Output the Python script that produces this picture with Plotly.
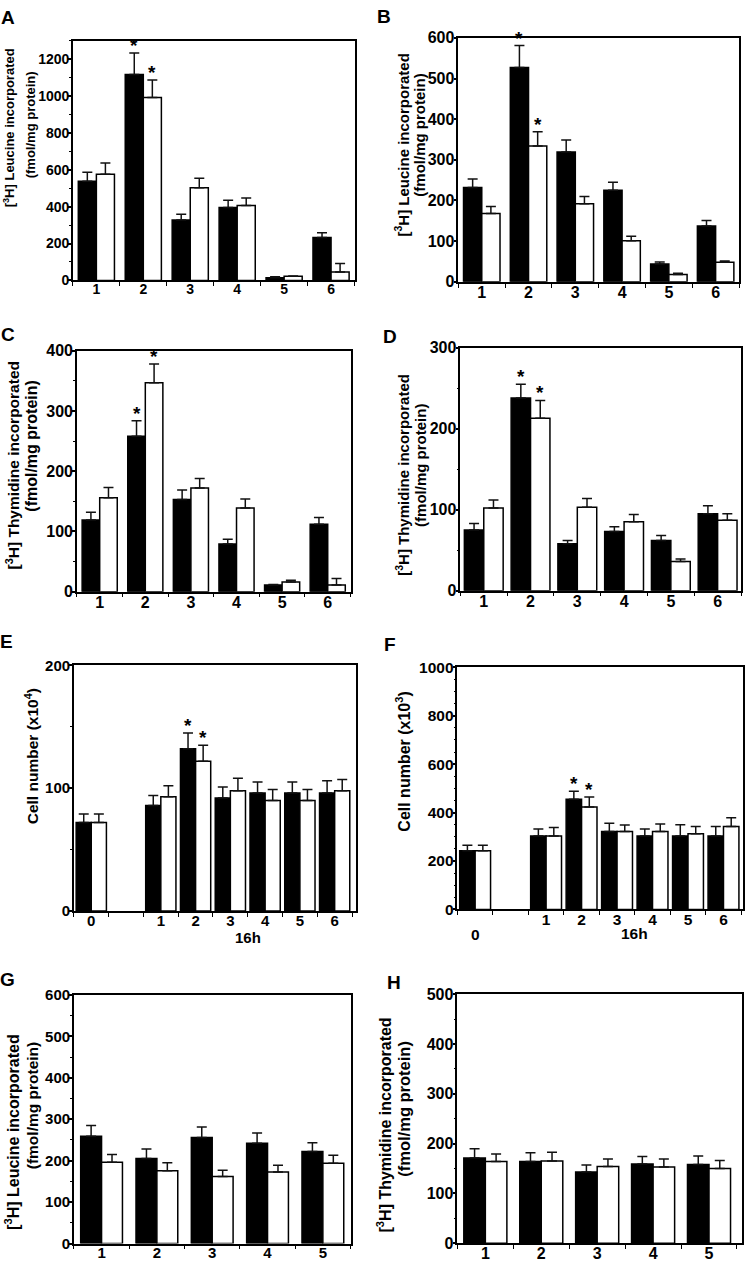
import plotly.graph_objects as go

W, H = 745, 1274

# ---------------- data ----------------
A_groups = ["1", "2", "3", "4", "5", "6"]
A_black = [538, 1116, 328, 395, 15, 233]
A_black_err = [48, 116, 30, 39, 5, 25]
A_white = [575, 992, 502, 406, 22, 46]
A_white_err = [61, 94, 52, 41, 2, 45]
A_sig = ["2"]

B_groups = ["1", "2", "3", "4", "5", "6"]
B_black = [232, 527, 319, 225, 44, 137]
B_black_err = [21, 54, 30, 20, 5, 14]
B_white = [168, 334, 192, 101, 18, 48]
B_white_err = [17, 35, 18, 11, 3, 3]
B_sig = ["2"]

C_groups = ["1", "2", "3", "4", "5", "6"]
C_black = [119, 258, 153, 79, 11, 112]
C_black_err = [13, 26, 16, 8, 1, 11]
C_white = [156, 347, 172, 139, 16, 11]
C_white_err = [17, 31, 16, 15, 3, 11]
C_sig = ["2"]

D_groups = ["1", "2", "3", "4", "5", "6"]
D_black = [75, 238, 58, 73, 62, 95]
D_black_err = [8, 17, 4, 6, 6, 10]
D_white = [102, 213, 103, 85, 36, 87]
D_white_err = [10, 22, 11, 9, 3, 8]
D_sig = ["2"]

E_groups = ["0", "1", "2", "3", "4", "5", "6"]
E_black = [72, 86, 132, 92, 96, 96, 96]
E_black_err = [7, 8, 13, 9, 9, 9, 10]
E_white = [72, 93, 122, 98, 90, 90, 98]
E_white_err = [7, 9, 13, 10, 9, 9, 9]
E_sig = ["2"]

F_groups = ["0", "1", "2", "3", "4", "5", "6"]
F_black = [242, 303, 455, 322, 303, 303, 303]
F_black_err = [23, 29, 33, 34, 29, 47, 39]
F_white = [242, 303, 423, 322, 322, 312, 342]
F_white_err = [23, 35, 41, 27, 31, 30, 36]
F_sig = ["2"]

G_groups = ["1", "2", "3", "4", "5"]
G_black = [259, 205, 256, 242, 222]
G_black_err = [26, 23, 25, 25, 21]
G_white = [196, 176, 162, 173, 194]
G_white_err = [19, 19, 15, 16, 19]
G_sig = []

H_groups = ["1", "2", "3", "4", "5"]
H_black = [171, 164, 143, 159, 158]
H_black_err = [19, 18, 14, 15, 17]
H_white = [164, 165, 154, 153, 150]
H_white_err = [15, 18, 15, 16, 16]
H_sig = []

LEU = "[<sup>3</sup>H] Leucine incorporated"
THY = "[<sup>3</sup>H] Thymidine incorporated"
FMOL = "(fmol/mg protein)"

data = {
    "A": (A_groups, A_black, A_black_err, A_white, A_white_err, A_sig),
    "B": (B_groups, B_black, B_black_err, B_white, B_white_err, B_sig),
    "C": (C_groups, C_black, C_black_err, C_white, C_white_err, C_sig),
    "D": (D_groups, D_black, D_black_err, D_white, D_white_err, D_sig),
    "E": (E_groups, E_black, E_black_err, E_white, E_white_err, E_sig),
    "F": (F_groups, F_black, F_black_err, F_white, F_white_err, F_sig),
    "G": (G_groups, G_black, G_black_err, G_white, G_white_err, G_sig),
    "H": (H_groups, H_black, H_black_err, H_white, H_white_err, H_sig),
}

# ---------------- styling / layout (pixels) ----------------
spec = {
    "A": dict(box=(73, 355, 32, 275.3), yr=(0, 1300), dt=200, mdt=100, gap=0.23, xr=(0.5, 6.5), tf=14,
              titles=[(LEU, 9, 120, 13), (FMOL, 30, 117, 13)], letter=(8, 9)),
    "B": dict(box=(459, 740, 29.3, 276.7), yr=(0, 600), dt=100, mdt=None, gap=0.22, xr=(0.5, 6.5), tf=16,
              titles=[(LEU, 402, 138, 15), (FMOL, 420, 128, 15)], letter=(385, 8)),
    "C": dict(box=(77, 351, 346.7, 591), yr=(0, 400), dt=100, mdt=50, gap=0.23, xr=(0.5, 6.5), tf=16,
              titles=[(THY, 13, 463, 15.5), (FMOL, 32, 443, 16)], letter=(8, 330)),
    "D": dict(box=(461, 742, 343.7, 590), yr=(0, 300), dt=100, mdt=50, gap=0.17, xr=(0.5, 6.5), tf=16,
              titles=[(THY, 403, 472, 15), (FMOL, 421, 463, 15)], letter=(391, 332)),
    "E": dict(box=(74, 356, 665.7, 915), yr=(0, 200), dt=100, mdt=50, gap=0.13, xr=(-0.5, 7.6), tf=15,
              titles=[("Cell number (x10<sup>4</sup>)", 32, 758, 15.5)], letter=(7, 642)),
    "F": dict(box=(458, 744, 667.7, 913.3), yr=(0, 1000), dt=200, mdt=50, gap=0.13, xr=(-0.5, 7.55), tf=15.5,
              titles=[("Cell number (x10<sup>3</sup>)", 404, 763, 16)], letter=(391, 645)),
    "G": dict(box=(74, 351, 1000, 1252.3), yr=(0, 600), dt=100, mdt=50, gap=0.245, xr=(0.5, 5.5), tf=15,
              titles=[(LEU, 12, 1139, 16), (FMOL, 32, 1112, 15.5)], letter=(8, 984)),
    "H": dict(box=(458, 743, 999.3, 1252), yr=(0, 500), dt=100, mdt=50, gap=0.23, xr=(0.5, 5.59), tf=16,
              titles=[(THY, 385, 1132, 16), (FMOL, 405, 1115, 16.5)], letter=(395, 987)),
}

FONT = "Liberation Sans, Arial, sans-serif"


def px(x):
    return x / W


def py(y):
    return 1 - y / H


fig = go.Figure()
annotations = []
layout_axes = {}

for i, key in enumerate(["A", "B", "C", "D", "E", "F", "G", "H"]):
    groups, blk, blk_e, wht, wht_e, sig = data[key]
    s = spec[key]
    n = len(groups)
    if key in ("E", "F"):
        xpos = [0] + [j + 2 for j in range(n - 1)]
    else:
        xpos = [j + 1 for j in range(n)]
    bw = (1 - s["gap"]) / 2
    xa = "x" if i == 0 else f"x{i+1}"
    ya = "y" if i == 0 else f"y{i+1}"
    for vals, errs, color, off in ((blk, blk_e, "black", -bw), (wht, wht_e, "white", 0.0)):
        fig.add_trace(go.Bar(
            x=xpos, y=vals, width=[bw] * n, offset=[off] * n,
            marker=dict(color=color, line=dict(color="black", width=1.5)),
            error_y=dict(type="data", array=errs, arrayminus=[0] * n, symmetric=False,
                         color="#111111", thickness=1.5, width=5),
            xaxis=xa, yaxis=ya, showlegend=False, hoverinfo="skip",
        ))
    # significance asterisks
    for vals, errs, off, sgroups in ((blk, blk_e, -bw / 2, sig), (wht, wht_e, bw / 2, sig)):
        for g in sgroups:
            j = groups.index(g)
            annotations.append(dict(
                x=xpos[j] + off, y=vals[j] + errs[j], xref=xa, yref=ya, text="<b>*</b>",
                showarrow=False, yanchor="bottom", xanchor="center", yshift=-5,
                font=dict(family=FONT, size=19, color="black")))
    x0, x1, yt, yb = s["box"]
    tickfont = dict(family=FONT, size=s["tf"], color="black", weight="bold")
    if key == "F":
        tvals, ttext = xpos[1:], groups[1:]
    else:
        tvals, ttext = xpos, groups
    half = [k + 0.5 for k in range(int(s["xr"][0] - 1.5), int(s["xr"][1]) + 2)
            if s["xr"][0] - 1e-6 <= k + 0.5 <= s["xr"][1] + 1e-6]
    xname = "xaxis" if i == 0 else f"xaxis{i+1}"
    yname = "yaxis" if i == 0 else f"yaxis{i+1}"
    layout_axes[xname] = dict(
        domain=[px(x0), px(x1)], anchor=ya, range=list(s["xr"]),
        tickmode="array", tickvals=tvals, ticktext=ttext, ticks="outside", ticklen=0,
        tickcolor="black", tickfont=tickfont, ticklabelstandoff=-5,
        minor=dict(tickmode="array", tickvals=half, ticks="outside", ticklen=4,
                   tickcolor="black", tickwidth=1.2),
        showline=True, linecolor="black", linewidth=1.5, mirror=True,
        showgrid=False, zeroline=False, fixedrange=True,
    )
    ydict = dict(
        domain=[py(yb), py(yt)], anchor=xa, range=list(s["yr"]),
        tickmode="linear", tick0=0, dtick=s["dt"], ticks="outside", ticklen=3, tickwidth=1.5,
        tickcolor="black", tickfont=tickfont, ticklabelstandoff=-4,
        showline=True, linecolor="black", linewidth=1.5, mirror=True,
        showgrid=False, zeroline=False, fixedrange=True,
    )
    if s["mdt"]:
        ydict["minor"] = dict(dtick=s["mdt"], tick0=0, ticks="outside", ticklen=2,
                              tickcolor="black", tickwidth=1.2)
    layout_axes[yname] = ydict

    # axis titles as rotated annotations
    for text, tx, ty, fs in s["titles"]:
        annotations.append(dict(
            x=px(tx), y=py(ty), xref="paper", yref="paper", text=text, textangle=-90,
            showarrow=False, xanchor="center", yanchor="middle",
            font=dict(family=FONT, size=fs, color="black", weight="bold")))
    # panel letter
    lx, ly = s["letter"]
    annotations.append(dict(
        x=px(lx), y=py(ly), xref="paper", yref="paper", text=key, showarrow=False,
        xanchor="center", yanchor="middle",
        font=dict(family=FONT, size=19, color="black", weight="bold")))

# extra x-axis texts for cell-number panels
annotations.append(dict(x=4.5, y=py(942), xref="x5", yref="paper", text="16h", showarrow=False,
                        xanchor="center", yanchor="middle",
                        font=dict(family=FONT, size=15, color="black", weight="bold")))
annotations.append(dict(x=4.5, y=py(938), xref="x6", yref="paper", text="16h", showarrow=False,
                        xanchor="center", yanchor="middle",
                        font=dict(family=FONT, size=15.5, color="black", weight="bold")))
annotations.append(dict(x=0, y=py(939), xref="x6", yref="paper", text=F_groups[0], showarrow=False,
                        xanchor="center", yanchor="middle",
                        font=dict(family=FONT, size=15.5, color="black", weight="bold")))

fig.update_layout(
    width=W, height=H, margin=dict(l=0, r=0, t=0, b=0),
    paper_bgcolor="white", plot_bgcolor="white",
    barmode="overlay", showlegend=False,
    annotations=annotations,
    **layout_axes,
)

fig.write_html("out.html", config={"displayModeBar": False},
               post_script="document.body.style.margin='0';document.body.style.overflow='hidden';")
